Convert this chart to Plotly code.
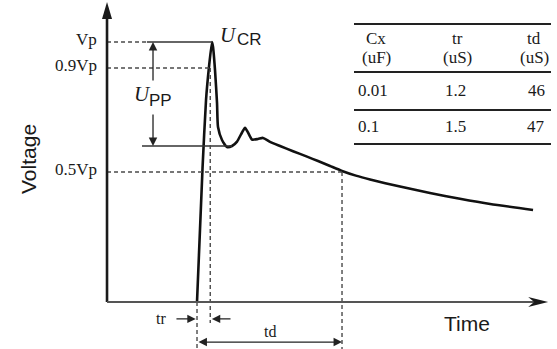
import plotly.graph_objects as go

# ---------------- data ----------------
# surge waveform (time in arbitrary us-like units, voltage normalised to Vp)
time_us = [0, 1.75, 2.86, 3.8, 4.76, 5.08, 5.71, 6.35, 6.66, 7.93, 9.52, 11.1, 12.69,
           14.28, 15.23, 16.18, 17.45, 19.35, 20.94, 23.16, 26.33, 30.46, 34.9,
           38.39, 42.2, 46.0, 50.4, 54.9, 64.4, 73.9, 83.4, 93.0, 106.6]
voltage = [0, 0.515, 0.777, 0.904, 1.0, 0.981, 0.892, 0.765, 0.673, 0.623, 0.596, 0.600,
           0.617, 0.652, 0.670, 0.652, 0.625, 0.627, 0.631, 0.616, 0.600, 0.580,
           0.559, 0.542, 0.523, 0.504, 0.486, 0.471, 0.444, 0.419, 0.397, 0.377, 0.354]

level_labels = ["Vp", "0.9Vp", "0.5Vp"]
level_values = [1.0, 0.9, 0.5]

t_start = 0.0      # start of rise
t_peak = 4.76      # time of peak (Vp)
t_90 = 4.2         # 0.9Vp crossing
t_d = 46.0         # 0.5Vp crossing on tail
upp_low = 0.6      # lower level of Upp

# table
table_header_top = ["Cx", "tr", "td"]
table_header_bot = ["(uF)", "(uS)", "(uS)"]
cx_uF = ["0.01", "0.1"]
tr_us = ["1.2", "1.5"]
td_us = ["46", "47"]

# ---------------- geometry ----------------
W, H = 557, 349
t_axis = -28.55     # where the voltage axis stands
t_axis_end = 111.4  # tip of time axis
v_axis_top = 1.154  # tip of voltage axis
x_range = [-62.5, 114.2]
y_range = [-0.1808, 1.1615]

SERIF = "Liberation Serif"
SANS = "Liberation Sans"
DASH = "4px,3px"
DCOL = "#4a4a4a"
LCOL = "#222222"

fig = go.Figure()

# waveform
fig.add_trace(go.Scatter(x=time_us, y=voltage, mode="lines",
                         line=dict(color="#111111", width=2.6, shape="spline", smoothing=0.55),
                         hoverinfo="skip"))

shapes = []
ann = []


def seg(x0, y0, x1, y1, dash=None, color=DCOL, width=1.4):
    shapes.append(dict(type="line", xref="x", yref="y", x0=x0, y0=y0, x1=x1, y1=y1,
                       line=dict(color=color, width=width, dash=dash)))


upp_x = -13.96
upp_top_left = -15.9
upp_low_left = -17.45
upp_low_right = 11.1

# level dashed lines
seg(t_axis, level_values[0], upp_top_left, level_values[0], dash=DASH)
seg(upp_top_left, level_values[0], t_peak, level_values[0], color="#333333", width=1.3)
seg(t_axis, level_values[1], t_90, level_values[1], dash=DASH)
seg(t_axis, level_values[2], t_d, level_values[2], dash=DASH)
seg(upp_low_left, upp_low, upp_low_right, upp_low, color="#333333", width=1.3)

# vertical dashed markers
seg(t_start, 0, t_start, y_range[0], dash=DASH)
seg(t_90, level_values[1], t_90, -0.081, dash=DASH)
seg(t_d, level_values[2], t_d, y_range[0], dash=DASH)

# axes
shapes.append(dict(type="line", xref="x", yref="y", x0=t_axis, y0=0, x1=t_axis, y1=v_axis_top - 0.04,
                   line=dict(color="#1a1a1a", width=2.6)))
shapes.append(dict(type="line", xref="x", yref="y", x0=t_axis, y0=0, x1=t_axis_end - 4.5, y1=0,
                   line=dict(color="#555555", width=2.2)))
# arrow heads (pixel-sized paths anchored at axis tips)
shapes.append(dict(type="path", xref="x", yref="y", xsizemode="pixel", ysizemode="pixel",
                   xanchor=t_axis, yanchor=v_axis_top,
                   path="M0,0 L-5,-17 L5,-17 Z", fillcolor="#1a1a1a", line=dict(width=0)))
shapes.append(dict(type="path", xref="x", yref="y", xsizemode="pixel", ysizemode="pixel",
                   xanchor=t_axis_end, yanchor=0,
                   path="M0,0 L-20,5 L-14,0 L-20,-5 Z", fillcolor="#1a1a1a", line=dict(width=0)))


def arrow(xh, yh, xt, yt, side="end"):
    ann.append(dict(x=xh, y=yh, ax=xt, ay=yt, xref="x", yref="y", axref="x", ayref="y",
                    text="", showarrow=True, arrowhead=2, arrowsize=1.3, arrowwidth=1.3,
                    arrowcolor=LCOL, arrowside=side, standoff=0, startstandoff=0))


# Upp arrows
arrow(upp_x, level_values[0], upp_x, 0.846)
arrow(upp_x, upp_low, upp_x, 0.727)
# tr arrows
arrow(t_start - 0.4, -0.065, -7.0, -0.065)
arrow(t_90 + 0.5, -0.065, 11.1, -0.065)
# td double arrow
ann.append(dict(x=t_d, y=-0.154, ax=t_start, ay=-0.154, xref="x", yref="y", axref="x", ayref="y",
                text="", showarrow=True, arrowhead=2, startarrowhead=2, arrowsize=1.3,
                startarrowsize=1.3, arrowwidth=1.3, arrowcolor=LCOL, arrowside="end+start",
                standoff=0, startstandoff=0))


def txt(x, y, s, size, family=SERIF, xanchor="center", xref="x", yref="y", **kw):
    ann.append(dict(x=x, y=y, xref=xref, yref=yref, text=s, showarrow=False,
                    xanchor=xanchor, yanchor="middle",
                    font=dict(family=family, size=size, color="#1a1a1a"), **kw))


# level labels
for lab, v in zip(level_labels, level_values):
    txt(t_axis - 2.6, v + 0.01, lab, 17, xanchor="right")

# U labels
txt(-17.4, 0.80, "<i>U</i>", 21, xanchor="center")
txt(-16.0, 0.775, "PP", 17, family=SANS, xanchor="left")
txt(9.9, 1.027, "<i>U</i>", 21, xanchor="center")
txt(11.9, 1.008, "CR", 17, family=SANS, xanchor="left")

# tr / td labels
txt(-11.4, -0.065, "tr", 16)
txt(23.3, -0.115, "td", 16)

# axis titles
txt(28 / W, 1 - 159 / H, "Voltage", 21, family=SANS, xref="paper", yref="paper", textangle=-90)
txt(467 / W, 1 - 323 / H, "Time", 21, family=SANS, xref="paper", yref="paper")

# ---------------- table ----------------
def P(px):
    return px / W


def Q(py):
    return 1 - py / H


for ry in [24, 72, 110, 144]:
    shapes.append(dict(type="line", xref="paper", yref="paper", x0=P(354), x1=P(551),
                       y0=Q(ry), y1=Q(ry), line=dict(color="#222222", width=1.8)))

hdr_x = [376, 457, 534]
for i in range(3):
    txt(P(hdr_x[i]), Q(38), table_header_top[i], 17, xref="paper", yref="paper")
    txt(P(hdr_x[i]), Q(57), table_header_bot[i], 17, xref="paper", yref="paper")

row_y = [91, 127]
for j in range(2):
    txt(P(356), Q(row_y[j]), cx_uF[j], 17, xref="paper", yref="paper", xanchor="left")
    txt(P(455), Q(row_y[j]), tr_us[j], 17, xref="paper", yref="paper")
    txt(P(536), Q(row_y[j]), td_us[j], 17, xref="paper", yref="paper")

fig.update_layout(
    width=W, height=H, margin=dict(l=0, r=0, t=0, b=0),
    paper_bgcolor="white", plot_bgcolor="white", showlegend=False,
    xaxis=dict(range=x_range, visible=False, fixedrange=True),
    yaxis=dict(range=y_range, visible=False, fixedrange=True),
    shapes=shapes, annotations=ann,
)

fig.write_html("out.html", config={"displayModeBar": False},
               post_script="document.body.style.margin='0px';")
